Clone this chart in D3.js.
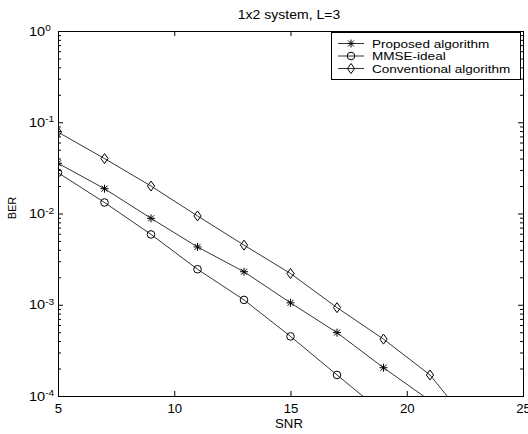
<!DOCTYPE html>
<html>
<head>
<meta charset="utf-8">
<script src="https://cdn.jsdelivr.net/npm/d3@7"></script>
<style>
body{margin:0;background:#fff;}
svg{display:block;font-family:"Liberation Sans",Arial,sans-serif;}
</style>
</head>
<body>
<svg width="528" height="434"></svg>
<script>
// values (BER on a log axis)
var snr = [5,7,9,11,13,15,17,19,21,23];
var proposed = [0.0355,0.0187,0.00885,0.0043,0.0023,0.00105,0.000495,0.000204,0.000089];
var mmse = [0.028,0.0132,0.0059,0.00245,0.00113,0.00045,0.00017,0.000065];
var conventional = [0.078,0.040,0.020,0.0094,0.0045,0.0022,0.00093,0.00042,0.00017,0.00004];
var seriesNames = ["Proposed algorithm","MMSE-ideal","Conventional algorithm"];
var xTicks = [5,10,15,20,25];
var yTicks = [1e-4,1e-3,1e-2,1e-1,1];
var titleText = "1x2 system, L=3";
var xLabel = "SNR";
var yLabel = "BER";

var svg = d3.select("svg");
var plot = {left:58,right:523,top:31,bottom:396};

var x = d3.scaleLinear().domain([5,25]).range([plot.left,plot.right]);
var y = d3.scaleLog().domain([1e-4,1]).range([plot.bottom,plot.top]);

// minor ticks 2..9 in each decade
var minor = [];
yTicks.slice(0,-1).forEach(function(d){
    for (var k=2;k<10;k++) minor.push(d*k);
});

// the old figure's text is a bit wider than Liberation Sans
var wide = function(tx,ty,sx)
{
    return "translate("+tx+","+ty+") scale("+sx+",1)";
}

// axes, ticks pointing inward
var bottom = svg.append("g")
    .attr("transform","translate(0,"+plot.bottom+")")
    .call(d3.axisBottom(x).tickValues(xTicks).tickSize(-5).tickPadding(8));
svg.append("g")
    .attr("transform","translate(0,"+plot.top+")")
    .call(d3.axisTop(x).tickValues(xTicks).tickSize(-5).tickFormat(""));

var left = svg.append("g")
    .attr("transform","translate("+plot.left+",0)")
    .call(d3.axisLeft(y).tickValues(yTicks).tickSize(-5));
svg.append("g")
    .attr("transform","translate("+plot.left+",0)")
    .call(d3.axisLeft(y).tickValues(minor).tickSize(-3).tickFormat(""));
svg.append("g")
    .attr("transform","translate("+plot.right+",0)")
    .call(d3.axisRight(y).tickValues(yTicks).tickSize(-5).tickFormat(""));
svg.append("g")
    .attr("transform","translate("+plot.right+",0)")
    .call(d3.axisRight(y).tickValues(minor).tickSize(-3).tickFormat(""));

svg.selectAll(".domain").remove();
svg.selectAll(".tick line").attr("stroke","#000");
svg.selectAll(".tick text")
    .attr("font-family","Liberation Sans, Arial, sans-serif")
    .attr("fill","#000");

bottom.selectAll(".tick text")
    .attr("font-size",12)
    .attr("transform","scale(1.1,1)");

// 10 with superscript exponent
left.selectAll(".tick text")
    .attr("font-size",13)
    .attr("text-anchor","start")
    .attr("x",0)
    .attr("transform",wide(-29,0,1.12))
    .text(null)
    .each(function(d){
        var t = d3.select(this);
        t.append("tspan").text("10");
        t.append("tspan").attr("dy","-0.5em").attr("font-size",9)
            .text(String(Math.round(Math.log10(d))));
    });

// box
svg.append("rect")
    .attr("x",plot.left+0.5).attr("y",plot.top+0.5)
    .attr("width",plot.right-plot.left).attr("height",plot.bottom-plot.top)
    .attr("fill","none").attr("stroke","#000");

// title and labels
svg.append("text").attr("transform",wide(289,19,1.17))
    .attr("text-anchor","middle").attr("font-size",12).text(titleText);
svg.append("text").attr("transform",wide(289,428,1.1))
    .attr("text-anchor","middle").attr("font-size",12).text(xLabel);
svg.append("text")
    .attr("transform","translate(16,208) rotate(-90)")
    .attr("text-anchor","middle").attr("font-size",11).text(yLabel);

// markers
var star = "M-4,0L4,0M0,-4L0,4M-3,-3L3,3M-3,3L3,-3";
var diamond = "M0,-5L3.6,0L0,5L-3.6,0Z";
var drawMarker = function(g,type)
{
    if (type=="circle")
        g.append("circle").attr("r",3.8).attr("fill","none").attr("stroke","#000");
    else
        g.append("path").attr("d",type=="star"?star:diamond)
            .attr("fill","none").attr("stroke","#000");
}

var series = [
    {name:seriesNames[0],values:proposed,marker:"star"},
    {name:seriesNames[1],values:mmse,marker:"circle"},
    {name:seriesNames[2],values:conventional,marker:"diamond"}
];

svg.append("clipPath").attr("id","clip")
    .append("rect")
    .attr("x",plot.left+0.5).attr("y",plot.top+0.5)
    .attr("width",plot.right-plot.left).attr("height",plot.bottom-plot.top);

var area = svg.append("g").attr("clip-path","url(#clip)");

var line = d3.line()
    .x(function(d,i){return x(snr[i]);})
    .y(function(d){return y(d);});

series.forEach(function(s){
    area.append("path")
        .attr("d",line(s.values))
        .attr("fill","none")
        .attr("stroke","#000")
        .attr("stroke-width",0.8);
    s.values.forEach(function(v,i){
        var g = area.append("g")
            .attr("transform","translate("+x(snr[i])+","+y(v)+")");
        drawMarker(g,s.marker);
    });
});

// legend
var legend = svg.append("g");
legend.append("rect")
    .attr("x",331.5).attr("y",32.5).attr("width",189).attr("height",47)
    .attr("fill","#fff").attr("stroke","#000");
series.forEach(function(s,i){
    var ly = 43.5+i*12.5;
    legend.append("line")
        .attr("x1",338).attr("x2",364).attr("y1",ly).attr("y2",ly)
        .attr("stroke","#000").attr("stroke-width",0.8);
    drawMarker(legend.append("g").attr("transform","translate(351,"+ly+")"),s.marker);
    legend.append("text")
        .attr("transform",wide(372,ly+4,1.23))
        .attr("font-size",11).text(s.name);
});
</script>
</body>
</html>
